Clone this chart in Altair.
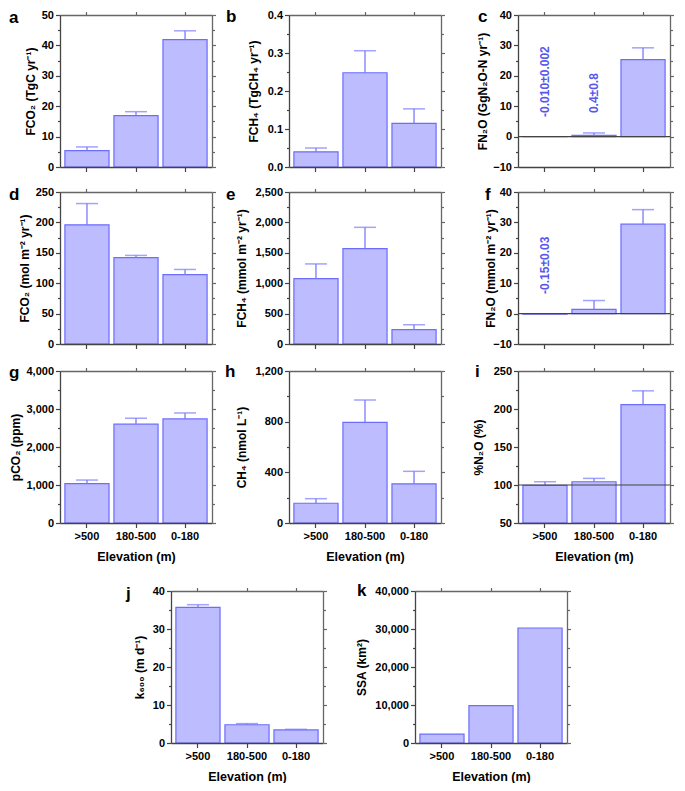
import json
import altair as alt
import pandas as pd

# ---------------- data ----------------
categories = [">500", "180-500", "0-180"]

a_values = [5.4, 16.9, 41.9]
a_err_top = [6.6, 18.2, 44.8]
b_values = [0.040, 0.248, 0.115]
b_err_top = [0.050, 0.306, 0.153]
c_values = [-0.010, 0.4, 25.3]
c_err_top = [None, 1.2, 29.2]
c_labels = ["-0.010±0.002", "0.4±0.8"]
c_label_y = [18.1, 14.3]
d_values = [196, 142, 114]
d_err_top = [231, 145.7, 122.6]
e_values = [1075, 1570, 237]
e_err_top = [1317, 1919, 317]
f_values = [-0.15, 1.4, 29.4]
f_err_top = [None, 4.3, 34.2]
f_labels = ["-0.15±0.03"]
f_label_y = [15.9]
g_values = [1035, 2600, 2739]
g_err_top = [1130, 2757, 2896]
h_values = [156, 795, 309]
h_err_top = [192, 971, 408]
i_values = [99.6, 104.3, 205.7]
i_err_top = [104.3, 108.7, 223.9]
j_values = [35.7, 4.8, 3.45]
j_err_top = [36.4, 5.1, 3.6]
k_values = [2330, 9830, 30260]
k_err_top = [None, None, None]

a_ticks = [0, 10, 20, 30, 40, 50]
b_ticks = [0, 0.1, 0.2, 0.3, 0.4]
c_ticks = [-10, 0, 10, 20, 30, 40]
d_ticks = [0, 50, 100, 150, 200, 250]
e_ticks = [0, 500, 1000, 1500, 2000, 2500]
f_ticks = [-10, 0, 10, 20, 30, 40]
g_ticks = [0, 1000, 2000, 3000, 4000]
h_ticks = [0, 400, 800, 1200]
i_ticks = [50, 100, 150, 200, 250]
j_ticks = [0, 10, 20, 30, 40]
k_ticks = [0, 10000, 20000, 30000, 40000]

# ---------------- style ----------------
FONT = "Liberation Sans"
FILL = "#BCBCFF"
STROKE = "#6C6CFF"
ERR = "#7A7AFF"
LABEL = "#5757EE"
DARK = "#444444"
GREY = "#666666"
W = 152
H = 152

panels = {
    "a": dict(title="FCO₂ (TgC yr⁻¹)", values=a_values, err=a_err_top, ticks=a_ticks, fmt="d", tx=-23, lx=-51, ly=8),
    "b": dict(title="FCH₄ (TgCH₄ yr⁻¹)", values=b_values, err=b_err_top, ticks=b_ticks, fmt=".1f", tx=-29, lx=-63, ly=7),
    "c": dict(title="FN₂O (GgN₂O-N yr⁻¹)", values=c_values, err=c_err_top, ticks=c_ticks, fmt="d", tx=-29, lx=-40, ly=7,
              labels=c_labels, label_y=c_label_y, ref=0),
    "d": dict(title="FCO₂ (mol m⁻² yr⁻¹)", values=d_values, err=d_err_top, ticks=d_ticks, fmt="d", tx=-29, lx=-51, ly=8),
    "e": dict(title="FCH₄ (mmol m⁻² yr⁻¹)", values=e_values, err=e_err_top, ticks=e_ticks, fmt=",d", tx=-41, lx=-63, ly=8),
    "f": dict(title="FN₂O (mmol m⁻² yr⁻¹)", values=f_values, err=f_err_top, ticks=f_ticks, fmt="d", tx=-21, lx=-33, ly=8,
              labels=f_labels, label_y=f_label_y, ref=0),
    "g": dict(title="pCO₂ (ppm)", values=g_values, err=g_err_top, ticks=g_ticks, fmt=",d", tx=-38, lx=-51, ly=7),
    "h": dict(title="CH₄ (nmol L⁻¹)", values=h_values, err=h_err_top, ticks=h_ticks, fmt=",d", tx=-41, lx=-64, ly=6),
    "i": dict(title="%N₂O (%)", values=i_values, err=i_err_top, ticks=i_ticks, fmt="d", tx=-33, lx=-43, ly=6, ref=100),
    "j": dict(title="k₆₀₀ (m d⁻¹)", values=j_values, err=j_err_top, ticks=j_ticks, fmt="d", tx=-25, lx=-45, ly=8),
    "k": dict(title="SSA (km²)", values=k_values, err=k_err_top, ticks=k_ticks, fmt=",d", tx=-47, lx=-58, ly=5),
}


def build_panel(letter, show_x):
    p = panels[letter]
    majors = p["ticks"]
    lo, hi = majors[0], majors[-1]
    minors = [(majors[k] + majors[k + 1]) / 2 for k in range(len(majors) - 1)]
    all_ticks = sorted(majors + minors)
    is_minor = f"indexof({json.dumps(majors)}, datum.value) < 0"
    base = lo if lo > 0 else 0

    df = pd.DataFrame({"cat": categories, "value": p["values"], "err": p["err"],
                       "base": [base] * len(categories)})
    xs = alt.Scale(domain=categories, paddingInner=0.1, paddingOuter=0.1)
    ys = alt.Scale(domain=[lo, hi], nice=False, zero=False)

    left_axis = alt.Axis(
        orient="left", values=all_ticks, format=p["fmt"],
        labelExpr=f"({is_minor}) ? '' : datum.label",
        tickSize={"condition": {"test": is_minor, "value": 2.5}, "value": 4.5},
        title=p["title"], titleX=p["tx"], titleFontSize=12, titleFontWeight="bold",
        titleColor="black", labelFontSize=11, labelFontWeight="bold", labelColor="black",
        labelPadding=2, domainColor=DARK, tickColor=DARK, domainWidth=1.3, tickWidth=1.2,
        labelOverlap=False, zindex=1)
    right_axis = alt.Axis(
        orient="right", values=all_ticks, labels=False, title=None,
        tickSize={"condition": {"test": is_minor, "value": 2.5}, "value": 3.5},
        domainColor=GREY, tickColor=GREY, domainWidth=1.3, tickWidth=1.2, zindex=1)
    if show_x:
        bottom_axis = alt.Axis(
            orient="bottom", labelAngle=0, tickSize=4.5, labelFontSize=11, labelFontWeight="bold",
            labelColor="black", labelPadding=3, title="Elevation (m)", titleFontSize=12.5,
            titleFontWeight="bold", titleColor="black", titlePadding=9,
            domainColor=DARK, tickColor=DARK, domainWidth=1.3, tickWidth=1.2, zindex=1)
    else:
        bottom_axis = alt.Axis(
            orient="bottom", labels=False, title=None, tickSize=4.5,
            domainColor=DARK, tickColor=DARK, domainWidth=1.3, tickWidth=1.2, zindex=1)
    top_axis = alt.Axis(
        orient="top", labels=False, title=None, tickSize=3.5,
        domainColor=GREY, tickColor=GREY, domainWidth=1.3, tickWidth=1.2, zindex=1)

    x_enc = alt.X("cat:N", scale=xs, sort=categories, axis=None)

    layers = []
    bars = alt.Chart(df).mark_bar(fill=FILL, stroke=STROKE, strokeWidth=1.2).encode(
        x=alt.X("cat:N", scale=xs, sort=categories, axis=bottom_axis),
        y=alt.Y("value:Q", scale=ys, axis=left_axis),
        y2="base:Q",
    )
    layers.append(bars)

    err_df = df.dropna(subset=["err"])
    if len(err_df):
        rule = alt.Chart(err_df).mark_rule(color=ERR, strokeWidth=1.3).encode(
            x=x_enc, y=alt.Y("err:Q", scale=ys, axis=None), y2="value:Q")
        cap = alt.Chart(err_df).mark_tick(color=ERR, thickness=1.5, size=22).encode(
            x=x_enc, y=alt.Y("err:Q", scale=ys, axis=None))
        layers += [rule, cap]

    if "ref" in p:
        ref = alt.Chart(pd.DataFrame({"ref": [p["ref"]]})).mark_rule(color=DARK, strokeWidth=1.2).encode(
            y=alt.Y("ref:Q", scale=ys, axis=None))
        layers.append(ref)

    if "labels" in p:
        lab_df = pd.DataFrame({"cat": categories[:len(p["labels"])], "label": p["labels"],
                               "pos": p["label_y"]})
        txt = alt.Chart(lab_df).mark_text(angle=270, color=LABEL, fontWeight="bold", fontSize=12,
                                          font=FONT).encode(
            x=x_enc, y=alt.Y("pos:Q", scale=ys, axis=None), text="label:N")
        layers.append(txt)

    letter_layer = alt.Chart(pd.DataFrame({"letter": [letter]})).mark_text(
        align="left", baseline="alphabetic", fontSize=17, fontWeight="bold", font=FONT, color="black"
    ).encode(text="letter:N", x=alt.value(p["lx"]), y=alt.value(p["ly"]))
    layers.append(letter_layer)

    frame = alt.Chart(df).mark_point(opacity=0).encode(
        x=alt.X("cat:N", scale=xs, sort=categories, axis=top_axis),
        y=alt.Y("value:Q", scale=ys, axis=right_axis),
    )
    layers.append(frame)

    return alt.layer(*layers).resolve_axis(x="independent", y="independent").properties(width=W, height=H)


row1 = alt.hconcat(build_panel("a", False), build_panel("b", False), build_panel("c", False),
                   spacing=77, bounds="flush")
row2 = alt.hconcat(build_panel("d", False), build_panel("e", False), build_panel("f", False),
                   spacing=77, bounds="flush")
row3 = alt.hconcat(build_panel("g", True), build_panel("h", True), build_panel("i", True),
                   spacing=77, bounds="flush")
spacer = alt.Chart(pd.DataFrame({"s": [0]})).mark_point(opacity=0, size=1).encode(
    x=alt.value(0), y=alt.value(0)).properties(width=19, height=H)
row4 = alt.hconcat(spacer, build_panel("j", True), build_panel("k", True), spacing=92, bounds="flush")

top_rows = alt.vconcat(row1, row2, row3, spacing=13)
chart = alt.vconcat(top_rows, row4, spacing=19).properties(
    padding={"left": 0, "top": 0, "right": 0, "bottom": 0}
).configure(font=FONT).configure_view(stroke=None).configure_axis(grid=False)

chart.save("out.html", embed_options={"renderer": "svg", "actions": False})
